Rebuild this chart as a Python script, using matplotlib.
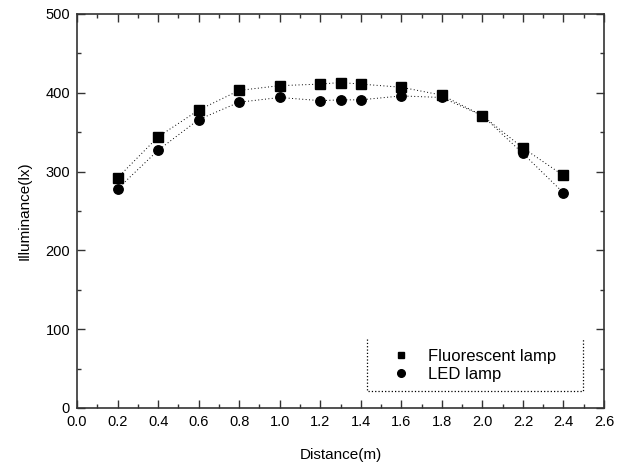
import numpy as np
import matplotlib
matplotlib.use("Agg")
import matplotlib.pyplot as plt
from matplotlib.ticker import MultipleLocator
from matplotlib.lines import Line2D

plt.rcParams['font.family'] = ['Liberation Sans', 'DejaVu Sans']

# measured illuminance along the line
distance = [0.2, 0.4, 0.6, 0.8, 1.0, 1.2, 1.3, 1.4, 1.6, 1.8, 2.0, 2.2, 2.4]
fluorescent = [292, 344, 378, 403, 409, 411, 413, 411, 407, 397, 371, 330, 295]
led = [278, 327, 366, 388, 394, 390, 391, 391, 396, 394, 371, 323, 273]
series_labels = ["Fluorescent lamp", "LED lamp"]

fig = plt.figure(figsize=(6.23, 4.70), dpi=100)
ax = fig.add_axes([0.1236, 0.132, 0.8459, 0.8383])

dots = (0, (1, 2.5))
ax.plot(distance, fluorescent, ls=dots, color='black', lw=0.7,
        marker='s', ms=6.8, mfc='black', mec='black')
ax.plot(distance, led, ls=dots, color='black', lw=0.7,
        marker='o', ms=6.8, mfc='black', mec='black')

ax.set_xlim(0.0, 2.6)
ax.set_ylim(0, 500)
ax.xaxis.set_minor_locator(MultipleLocator(0.1))
ax.yaxis.set_major_locator(MultipleLocator(100))
ax.yaxis.set_minor_locator(MultipleLocator(50))
xt = np.arange(0, 2.61, 0.2)
ax.set_xticks(xt)
ax.set_xticklabels([f"{v:.1f}" for v in xt])

ax.tick_params(which='both', direction='in', top=True, right=True,
               labelsize=10.5, width=1.0, color='#333333')
ax.tick_params(which='major', length=6, pad=5)
ax.tick_params(which='minor', length=3)
for sp in ax.spines.values():
    sp.set_linewidth(1.2)
    sp.set_color('#333333')

ax.set_xlabel("Distance(m)", fontsize=11, labelpad=14)
ax.set_ylabel("Illuminance(lx)", fontsize=11, labelpad=10)

# legend: markers only, no top border, dotted frame drawn by hand
handles = [Line2D([], [], ls='none', marker='s', ms=5, color='black'),
           Line2D([], [], ls='none', marker='o', ms=5.5, color='black')]
ax.legend(handles, series_labels, loc='lower left', bbox_to_anchor=(0.577, 0.033),
          frameon=False, fontsize=12, handlelength=0.8, handletextpad=1.2,
          labelspacing=0.15, borderpad=0.3)
box_x = [0.550, 0.550, 0.960, 0.960]
box_y = [0.175, 0.043, 0.043, 0.175]
ax.plot(box_x, box_y, transform=ax.transAxes, ls=':', color='black',
        lw=0.9, clip_on=False)

fig.savefig("out.png", dpi=100)
